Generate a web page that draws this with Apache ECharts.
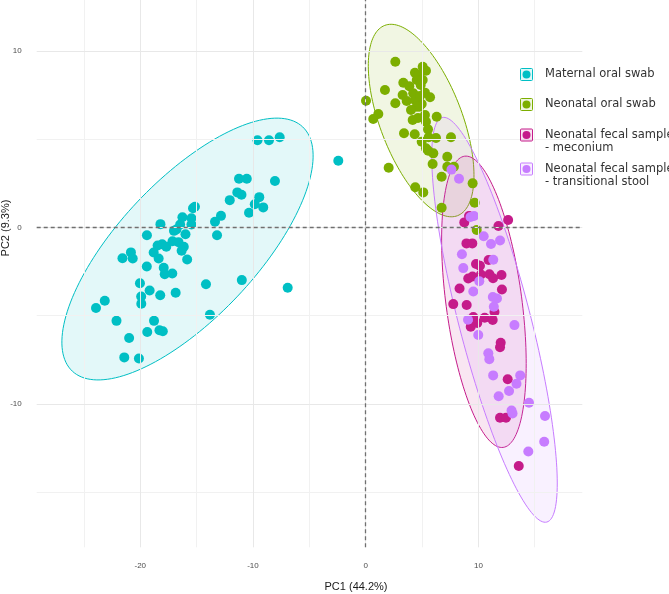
<!DOCTYPE html>
<html>
<head>
<meta charset="utf-8">
<script src="https://cdn.jsdelivr.net/npm/echarts@6/dist/echarts.min.js"></script>
<style>html,body{margin:0;padding:0;background:#fff}#c{width:669px;height:594px}</style>
</head>
<body>
<div id="c"></div>
<script>
// ---------------- DATA ----------------
const groupNames = ['Maternal oral swab', 'Neonatal oral swab', 'Neonatal fecal sample\n- meconium', 'Neonatal fecal sample\n- transitional stool'];
const xAxisTitle = 'PC1 (44.2%)';
const yAxisTitle = 'PC2 (9.3%)';
const xTicks = [-20, -10, 0, 10];
const yTicks = [-10, 0, 10];
const xMinor = [-25, -15, -5, 5, 15];
const yMinor = [-15, -5, 5];

const maternalOral = [[-9.60,4.93],[-8.58,4.93],[-7.63,5.10],[-11.24,2.75],[-10.55,2.75],[-8.05,2.62],[-11.39,1.98],[-11.02,1.85],[-12.06,1.54],[-9.44,1.71],[-9.84,1.31],[-9.09,1.13],[-10.35,0.83],[-15.15,1.17],[-15.32,1.08],[-12.84,0.65],[-13.37,0.32],[-13.19,-0.45],[-16.26,0.57],[-15.46,0.51],[-15.46,0.16],[-16.46,0.16],[-18.21,0.18],[-17.01,-0.20],[-16.79,-0.12],[-15.99,-0.39],[-19.41,-0.45],[-18.46,-1.03],[-18.06,-0.96],[-17.69,-1.10],[-17.14,-0.79],[-16.61,-0.84],[-16.14,-1.10],[-16.33,-1.33],[-20.83,-1.42],[-21.58,-1.75],[-20.67,-1.77],[-18.81,-1.43],[-18.37,-1.77],[-15.84,-1.82],[-19.42,-2.22],[-17.92,-2.29],[-17.83,-2.66],[-17.16,-2.62],[-20.03,-3.17],[-19.17,-3.58],[-18.23,-3.85],[-16.86,-3.71],[-14.17,-3.23],[-10.99,-2.99],[-6.92,-3.42],[-19.92,-3.92],[-19.91,-4.33],[-23.15,-4.16],[-23.93,-4.57],[-22.11,-5.30],[-18.78,-5.30],[-19.38,-5.93],[-18.30,-5.83],[-18.00,-5.89],[-13.82,-4.95],[-20.99,-6.27],[-21.42,-7.37],[-20.12,-7.43],[-2.43,3.77]];

const neonatalOral = [[2.63,9.38],[5.06,9.10],[5.35,8.87],[4.37,8.76],[4.73,8.63],[4.53,8.35],[5.06,8.35],[3.34,8.19],[3.87,8.00],[4.88,8.06],[1.71,7.78],[5.26,7.63],[4.22,7.59],[3.28,7.50],[5.71,7.37],[3.64,7.16],[4.37,7.21],[4.97,6.99],[4.76,6.83],[4.53,6.83],[2.63,7.03],[0.03,7.17],[4.02,6.65],[5.26,6.36],[6.30,6.27],[1.12,6.42],[0.67,6.14],[4.17,6.08],[5.35,5.98],[5.53,5.55],[3.40,5.33],[4.35,5.27],[5.59,5.10],[6.24,5.06],[7.57,5.10],[4.97,4.85],[5.35,4.48],[5.55,4.34],[6.00,4.19],[7.24,4.00],[5.94,3.59],[2.04,3.38],[7.24,3.43],[7.83,3.43],[6.74,2.87],[9.49,2.49],[4.40,2.27],[5.11,1.98],[9.67,1.39],[6.74,1.11],[9.85,-0.15],[4.82,7.44],[4.64,6.19]];

const fecalMeconium = [[8.75,0.28],[9.17,0.64],[11.78,0.07],[12.64,0.41],[8.94,-0.91],[9.46,-0.91],[9.79,-2.08],[10.14,-2.18],[10.91,-1.85],[9.10,-2.90],[9.48,-2.79],[10.23,-2.67],[10.98,-2.66],[11.30,-2.89],[12.05,-2.70],[8.33,-3.47],[12.09,-3.52],[7.77,-4.35],[8.96,-4.40],[11.43,-4.80],[9.55,-5.08],[9.90,-5.42],[9.32,-5.63],[10.56,-5.12],[11.27,-5.25],[11.98,-6.54],[11.92,-6.80],[12.60,-8.61],[11.92,-10.79],[12.45,-10.79],[13.58,-13.52]];

const fecalTransitional = [[7.61,3.27],[8.28,2.75],[9.30,0.58],[9.61,0.64],[10.47,-0.51],[11.12,-0.95],[11.92,-0.75],[8.54,-1.53],[11.32,-1.84],[8.66,-2.31],[10.08,-3.06],[9.55,-3.64],[11.28,-3.95],[11.65,-4.03],[11.37,-4.50],[9.08,-5.24],[13.20,-5.54],[9.99,-6.10],[10.88,-7.14],[10.97,-7.47],[11.31,-8.39],[13.71,-8.39],[13.38,-8.86],[12.72,-9.27],[11.80,-9.57],[14.49,-9.94],[12.94,-10.38],[13.03,-10.55],[15.91,-10.69],[15.84,-12.15],[14.43,-12.70]];

// 95% ellipses: centre (x, y), conjugate semi-axis vectors A (ax, ay) and B (bx, by), in data units
const ellipseMaternal = [-15.81, -1.23, 10.22, 6.92, -4.45, 2.67];
const ellipseNeonatalOral = [4.92, 6.05, 3.23, -5.39, 3.40, 0.83];
const ellipseMeconium = [10.49, -4.22, 1.71, -8.25, 3.34, 0.28];
const ellipseTransitional = [11.43, -5.24, 4.64, -11.46, 3.08, 0.51];

// ---------------- CHART ----------------
const colors = ['#00BFC4', '#7CAE00', '#C51B8A', '#C77CFF'];
const pointSets = [maternalOral, neonatalOral, fecalMeconium, fecalTransitional];
const ellipseSets = [ellipseMaternal, ellipseNeonatalOral, ellipseMeconium, ellipseTransitional];

function rgba(hex, a) {
  const n = parseInt(hex.slice(1), 16);
  return 'rgba(' + (n >> 16) + ',' + ((n >> 8) & 255) + ',' + (n & 255) + ',' + a + ')';
}

const series = [];

// background grid lines
const gridLines = []
  .concat(xMinor.map(v => ({ xAxis: v, lineStyle: { color: '#f1f1f1', width: 1, type: 'solid' } })))
  .concat(yMinor.map(v => ({ yAxis: v, lineStyle: { color: '#f1f1f1', width: 1, type: 'solid' } })))
  .concat(xTicks.map(v => ({ xAxis: v, lineStyle: { color: '#e8e8e8', width: 1, type: 'solid' } })))
  .concat(yTicks.map(v => ({ yAxis: v, lineStyle: { color: '#e8e8e8', width: 1, type: 'solid' } })));
series.push({
  type: 'scatter', data: [], z: 0, silent: true,
  markLine: { silent: true, symbol: ['none', 'none'], label: { show: false }, animation: false, data: gridLines }
});

// ellipses
ellipseSets.forEach((e, k) => {
  series.push({
    type: 'custom', name: groupNames[k], coordinateSystem: 'cartesian2d', z: 1, silent: true,
    data: [e],
    renderItem: function (params, api) {
      const cx = api.value(0), cy = api.value(1), ax = api.value(2), ay = api.value(3), bx = api.value(4), by = api.value(5);
      const pts = [];
      const N = 160;
      for (let i = 0; i < N; i++) {
        const t = 2 * Math.PI * i / N;
        pts.push(api.coord([cx + ax * Math.cos(t) + bx * Math.sin(t), cy + ay * Math.cos(t) + by * Math.sin(t)]));
      }
      return { type: 'polygon', shape: { points: pts }, style: { fill: rgba(colors[k], 0.11), stroke: colors[k], lineWidth: 1 } };
    }
  });
});

// dashed zero lines
series.push({
  type: 'scatter', data: [], z: 2, silent: true,
  markLine: {
    silent: true, symbol: ['none', 'none'], label: { show: false }, animation: false,
    lineStyle: { color: '#707070', width: 1.3, type: [4, 3] },
    data: [{ xAxis: 0 }, { yAxis: 0 }]
  }
});

// points
pointSets.forEach((pts, k) => {
  series.push({
    type: 'scatter', name: groupNames[k], data: pts, z: 3,
    symbol: 'circle', symbolSize: 10,
    itemStyle: { color: colors[k], opacity: 1 }
  });
});

// legend (drawn as graphic)
const legendY = [74.5, 104.5, 135, 169];
const graphics = [];
groupNames.forEach((name, k) => {
  const cy = legendY[k];
  graphics.push({ type: 'rect', shape: { x: 520.5, y: cy - 6, width: 12, height: 12, r: 1 }, style: { fill: rgba(colors[k], 0.12), stroke: colors[k], lineWidth: 1 }, z: 10 });
  graphics.push({ type: 'circle', shape: { cx: 526.5, cy: cy, r: 4 }, style: { fill: colors[k] }, z: 11 });
  graphics.push({ type: 'text', x: 545, y: cy - 6.7, style: { text: name, fill: '#333', font: '11.5px "DejaVu Sans"', lineHeight: 13.4, verticalAlign: 'top', align: 'left' }, z: 11 });
});
graphics.push({ type: 'text', x: 356, y: 587, style: { text: xAxisTitle, fill: '#1a1a1a', font: '11px "Liberation Sans"', align: 'center', verticalAlign: 'middle' } });
graphics.push({ type: 'text', x: 6, y: 228, rotation: Math.PI / 2, style: { text: yAxisTitle, fill: '#1a1a1a', font: '11px "Liberation Sans"', align: 'center', verticalAlign: 'middle' } });

const chart = echarts.init(document.getElementById('c'), null, { renderer: 'canvas' });
chart.setOption({
  animation: false,
  backgroundColor: '#ffffff',
  grid: { left: 36.7, right: 669 - 582.3, top: 0, bottom: 594 - 547.3, containLabel: false },
  xAxis: {
    type: 'value', min: -29.19, max: 19.22, offset: 10.5,
    splitLine: { show: false }, axisLine: { show: false },
    axisTick: { show: true, length: 3, customValues: xTicks, lineStyle: { color: '#333', width: 1 } },
    axisLabel: { show: true, customValues: xTicks, margin: 4, fontSize: 8, color: '#4d4d4d', fontFamily: 'Liberation Sans' }
  },
  yAxis: {
    type: 'value', min: -18.13, max: 12.88, offset: 7,
    splitLine: { show: false }, axisLine: { show: false },
    axisTick: { show: true, length: 2, customValues: yTicks, lineStyle: { color: '#333', width: 1 } },
    axisLabel: { show: true, customValues: yTicks, margin: 8, fontSize: 8, color: '#4d4d4d', fontFamily: 'Liberation Sans' }
  },
  graphic: graphics,
  series: series
});
</script>
</body>
</html>
